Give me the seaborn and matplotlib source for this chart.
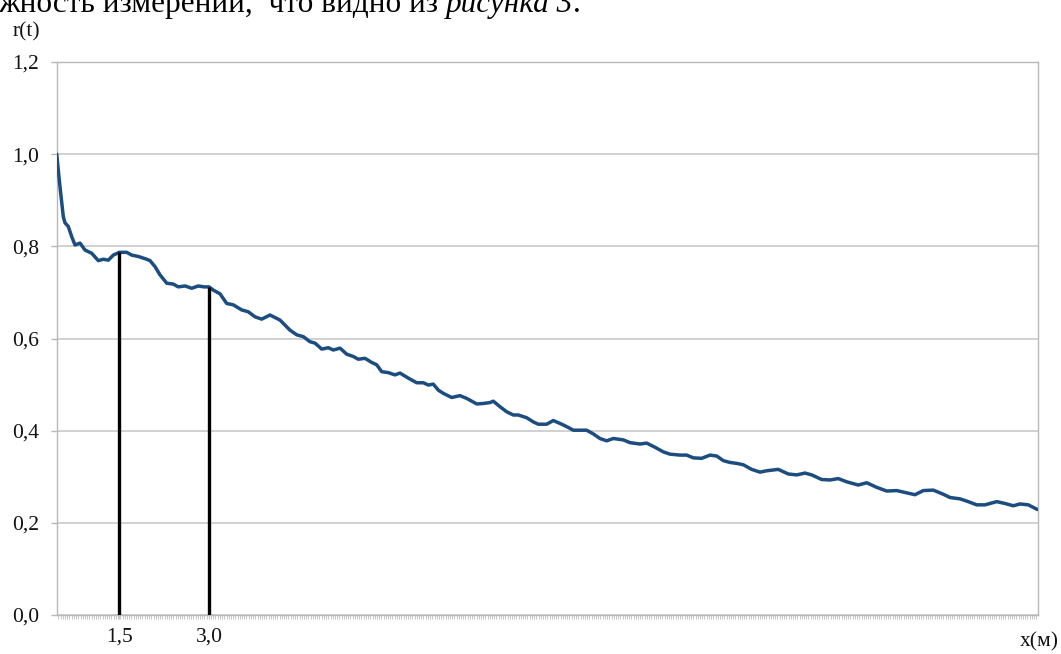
import matplotlib
matplotlib.use("Agg")
import matplotlib.pyplot as plt
from matplotlib.ticker import MultipleLocator
import pandas as pd
import seaborn as sns

# distance x (m) and correlation r(t)
distance_m = [0.453, 0.508, 0.564, 0.592, 0.647, 0.704, 0.759, 0.843, 0.926, 1.038,
              1.149, 1.232, 1.316, 1.400, 1.500, 1.624, 1.707, 1.818, 1.958, 2.013,
              2.097, 2.181, 2.293, 2.403, 2.487, 2.599, 2.711, 2.821, 2.916, 3.000,
              3.072, 3.184, 3.296, 3.406, 3.547, 3.657, 3.769, 3.881, 4.020, 4.187,
              4.355, 4.467, 4.577, 4.689, 4.773, 4.885, 4.995, 5.079, 5.191, 5.303,
              5.413, 5.497, 5.609, 5.721, 5.804, 5.888, 5.998, 6.110, 6.194, 6.333,
              6.473, 6.584, 6.667, 6.751, 6.834, 6.918, 7.058, 7.197, 7.309, 7.393,
              7.477, 7.587, 7.699, 7.754, 7.866, 7.978, 8.089, 8.172, 8.313, 8.423,
              8.507, 8.647, 8.757, 8.898, 9.008, 9.092, 9.204, 9.316, 9.426, 9.538,
              9.650, 9.761, 9.928, 10.040, 10.207, 10.319, 10.458, 10.597, 10.709, 10.876,
              10.988, 11.099, 11.239, 11.378, 11.490, 11.600, 11.712, 11.824, 11.935, 12.075,
              12.214, 12.326, 12.520, 12.687, 12.828, 12.967, 13.079, 13.246, 13.385, 13.523,
              13.664, 13.858, 13.998, 14.166, 14.333, 14.500, 14.667, 14.806, 14.945, 15.112,
              15.279, 15.391, 15.559, 15.697, 15.838, 15.977, 16.172, 16.311, 16.450, 16.562,
              16.701, 16.851]
r_values = [1.000, 0.929, 0.864, 0.851, 0.843, 0.821, 0.803, 0.807, 0.792, 0.785,
            0.769, 0.772, 0.770, 0.781, 0.787, 0.787, 0.781, 0.778, 0.772, 0.769,
            0.756, 0.738, 0.720, 0.718, 0.712, 0.714, 0.709, 0.714, 0.712, 0.712,
            0.705, 0.697, 0.676, 0.673, 0.662, 0.658, 0.647, 0.642, 0.651, 0.640,
            0.618, 0.608, 0.604, 0.593, 0.590, 0.577, 0.580, 0.575, 0.579, 0.566,
            0.561, 0.555, 0.557, 0.548, 0.543, 0.528, 0.526, 0.521, 0.525, 0.514,
            0.504, 0.504, 0.499, 0.501, 0.488, 0.481, 0.472, 0.476, 0.470, 0.464,
            0.458, 0.459, 0.461, 0.464, 0.452, 0.441, 0.434, 0.434, 0.428, 0.419,
            0.414, 0.414, 0.422, 0.414, 0.407, 0.401, 0.401, 0.401, 0.393, 0.383,
            0.378, 0.383, 0.380, 0.374, 0.371, 0.373, 0.364, 0.354, 0.349, 0.347,
            0.347, 0.341, 0.340, 0.347, 0.345, 0.335, 0.331, 0.329, 0.326, 0.316,
            0.310, 0.313, 0.316, 0.306, 0.304, 0.308, 0.304, 0.294, 0.293, 0.296,
            0.289, 0.282, 0.287, 0.277, 0.269, 0.270, 0.265, 0.261, 0.270, 0.271,
            0.262, 0.255, 0.252, 0.246, 0.239, 0.239, 0.246, 0.242, 0.237, 0.241,
            0.239, 0.229]

marker_x = [1.5, 3.0]
marker_r = [0.787, 0.712]
x_tick_labels = ["1,5", "3,0"]
y_ticks = [0.0, 0.2, 0.4, 0.6, 0.8, 1.0, 1.2]
y_tick_labels = ["0,0", "0,2", "0,4", "0,6", "0,8", "1,0", "1,2"]
y_axis_label = "r(t)"
x_axis_label = "x(м)"
caption_plain = "жность измерений,  что видно из "
caption_italic = "рисунка 3"
caption_end = "."

sns.set_theme(style="white")
plt.rcParams["font.family"] = ["Liberation Serif", "DejaVu Serif"]

W, H = 1061, 654
fig = plt.figure(figsize=(W / 100, H / 100), dpi=100)
ax = fig.add_axes([57 / W, 39 / H, 981 / W, 553 / H])

df = pd.DataFrame({"x": distance_m, "r": r_values})
sns.lineplot(data=df, x="x", y="r", ax=ax, color="#1c4d80", linewidth=2.5,
             estimator=None, sort=False, zorder=3)
ax.vlines(marker_x, 0, marker_r, colors="black", linewidth=2.4, zorder=4)

ax.set_xlim(0.458, 16.863)
ax.set_ylim(0, 1.2)
ax.set_yticks(y_ticks)
ax.set_yticklabels(y_tick_labels)
ax.set_xticks(marker_x)
ax.set_xticklabels(x_tick_labels)
ax.xaxis.set_minor_locator(MultipleLocator(0.037))
ax.set_xlabel("")
ax.set_ylabel("")

ax.grid(axis="y", color="#cacaca", linewidth=1.2)
ax.grid(axis="x", visible=False)
ax.set_axisbelow(True)
for s in ax.spines.values():
    s.set_color("#b8b8b8")
    s.set_linewidth(1.0)

tick_fs = 15.5
ax.tick_params(axis="y", which="major", left=True, length=4, width=1.0,
               color="#b8b8b8", labelsize=tick_fs, pad=9, direction="out",
               labelcolor="#111111")
ax.tick_params(axis="x", which="both", bottom=True, length=3, width=0.6,
               color="#bdbdbd", direction="out")
ax.tick_params(axis="x", which="major", labelsize=tick_fs, pad=6, labelcolor="#111111")

fig.text(26 / W, 1 - 32 / H, y_axis_label, ha="center", va="center",
         fontsize=tick_fs, color="#111111")
fig.text(1059 / W, 1 - 642 / H, x_axis_label, ha="right", va="center",
         fontsize=tick_fs, color="#111111")

# partially visible line of document text at the very top
renderer = fig.canvas.get_renderer()
base_y = 1 - 12 / H
t1 = fig.text(-2 / W, base_y, caption_plain, ha="left", va="baseline",
              fontsize=22.5, color="black")
bb = t1.get_window_extent(renderer)
t2 = fig.text(bb.x1 / W, base_y, caption_italic, ha="left", va="baseline",
              fontsize=22.5, style="italic", color="black")
bb2 = t2.get_window_extent(renderer)
fig.text(bb2.x1 / W, base_y, caption_end, ha="left", va="baseline",
         fontsize=22.5, color="black")

fig.savefig("out.png", dpi=100)
